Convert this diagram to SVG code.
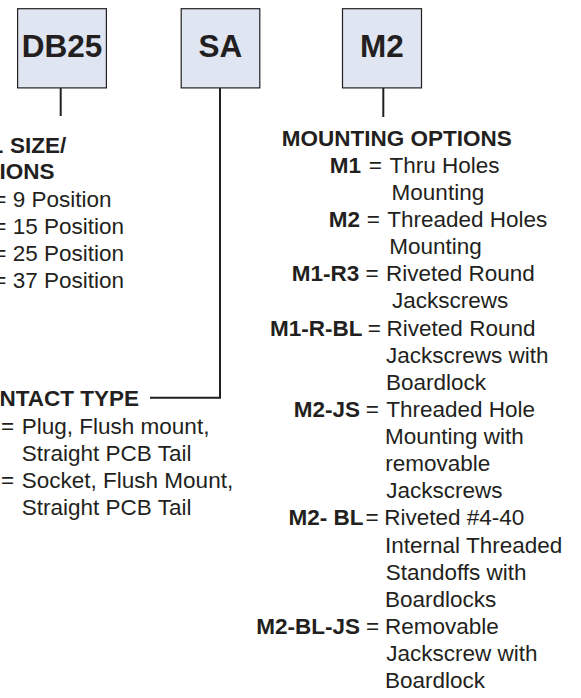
<svg xmlns="http://www.w3.org/2000/svg" width="581" height="698" viewBox="0 0 581 698">
<style>
.box{fill:#dfe5f1;stroke:#231f20;stroke-width:1.2}
.code{font-family:"Liberation Sans",Arial,Helvetica,sans-serif;font-weight:bold;font-size:31.5px;fill:#231f20;text-anchor:middle}
.h{font-family:"Liberation Sans",Arial,Helvetica,sans-serif;font-weight:bold;font-size:22.5px;fill:#231f20}
.b{font-family:"Liberation Sans",Arial,Helvetica,sans-serif;font-weight:bold;font-size:22.5px;fill:#231f20;text-anchor:end}
.t{font-family:"Liberation Sans",Arial,Helvetica,sans-serif;font-size:22.5px;fill:#231f20}
.conn{fill:none;stroke:#231f20;stroke-width:2}
</style>
<rect width="581" height="698" fill="#ffffff"/>
<g id="connectors">
<line class="conn" x1="60.7" y1="88" x2="60.7" y2="116"/>
<polyline class="conn" points="220,88 220,397.7 150,397.7"/>
<line class="conn" x1="383.3" y1="88" x2="383.3" y2="117"/>
</g>
<g id="node-db25">
<rect class="box" x="17.6" y="8.7" width="88.8" height="79.2"/>
<text class="code" x="62" y="57">DB25</text>
</g>
<g id="node-sa">
<rect class="box" x="181.2" y="8.7" width="78.6" height="79.2"/>
<text class="code" x="220.5" y="57">SA</text>
</g>
<g id="node-m2">
<rect class="box" x="342.5" y="8.7" width="79" height="79.2"/>
<text class="code" x="382" y="57">M2</text>
</g>
<g id="legend-shell">
<text class="h" x="-10.5" y="153">L</text>
<text class="h" x="10" y="153">SIZE/</text>
<text class="h" x="-0.5" y="179">IONS</text>
<text class="t" x="-6.7" y="206.5">=</text>
<text class="t" x="12.7" y="206.5">9 Position</text>
<text class="t" x="-6.7" y="233.5">=</text>
<text class="t" x="12.7" y="233.5">15 Position</text>
<text class="t" x="-6.7" y="260.5">=</text>
<text class="t" x="12.7" y="260.5">25 Position</text>
<text class="t" x="-6.7" y="287.5">=</text>
<text class="t" x="12.7" y="287.5">37 Position</text>
</g>
<g id="legend-contact">
<text class="h" x="-0.5" y="406">NTACT TYPE</text>
<text class="t" x="1" y="434">=</text>
<text class="t" x="21.8" y="434">Plug, Flush mount,</text>
<text class="t" x="21.8" y="461">Straight PCB Tail</text>
<text class="t" x="1" y="488">=</text>
<text class="t" x="21.8" y="488">Socket, Flush Mount,</text>
<text class="t" x="21.8" y="515">Straight PCB Tail</text>
</g>
<g id="legend-mounting">
<text class="h" x="281.7" y="145.5">MOUNTING OPTIONS</text>
<text class="b" x="361" y="173">M1</text>
<text class="t" x="368.7" y="173">=</text>
<text class="t" x="389.5" y="173">Thru Holes</text>
<text class="t" x="391.6" y="200">Mounting</text>
<text class="b" x="360" y="227">M2</text>
<text class="t" x="366.7" y="227">=</text>
<text class="t" x="387.2" y="227">Threaded Holes</text>
<text class="t" x="389.3" y="254">Mounting</text>
<text class="b" x="359.3" y="281">M1-R3</text>
<text class="t" x="365.4" y="281">=</text>
<text class="t" x="386" y="281">Riveted Round</text>
<text class="t" x="392" y="308">Jackscrews</text>
<text class="b" x="362.5" y="335.5">M1-R-BL</text>
<text class="t" x="367.7" y="335.5">=</text>
<text class="t" x="386.6" y="335.5">Riveted Round</text>
<text class="t" x="386" y="362.5">Jackscrews with</text>
<text class="t" x="386" y="389.5">Boardlock</text>
<text class="b" x="360" y="417">M2-JS</text>
<text class="t" x="365.7" y="417">=</text>
<text class="t" x="386.2" y="417">Threaded Hole</text>
<text class="t" x="385" y="444">Mounting with</text>
<text class="t" x="385.3" y="471">removable</text>
<text class="t" x="386.2" y="498">Jackscrews</text>
<text class="b" x="363.5" y="525">M2- BL</text>
<text class="t" x="365.4" y="525">=</text>
<text class="t" x="384.3" y="525">Riveted #4-40</text>
<text class="t" x="385" y="552.5">Internal Threaded</text>
<text class="t" x="385.7" y="579.5">Standoffs with</text>
<text class="t" x="385" y="606.5">Boardlocks</text>
<text class="b" x="360" y="634">M2-BL-JS</text>
<text class="t" x="366" y="634">=</text>
<text class="t" x="385" y="634">Removable</text>
<text class="t" x="386.2" y="661">Jackscrew with</text>
<text class="t" x="385" y="688">Boardlock</text>
</g>
</svg>
